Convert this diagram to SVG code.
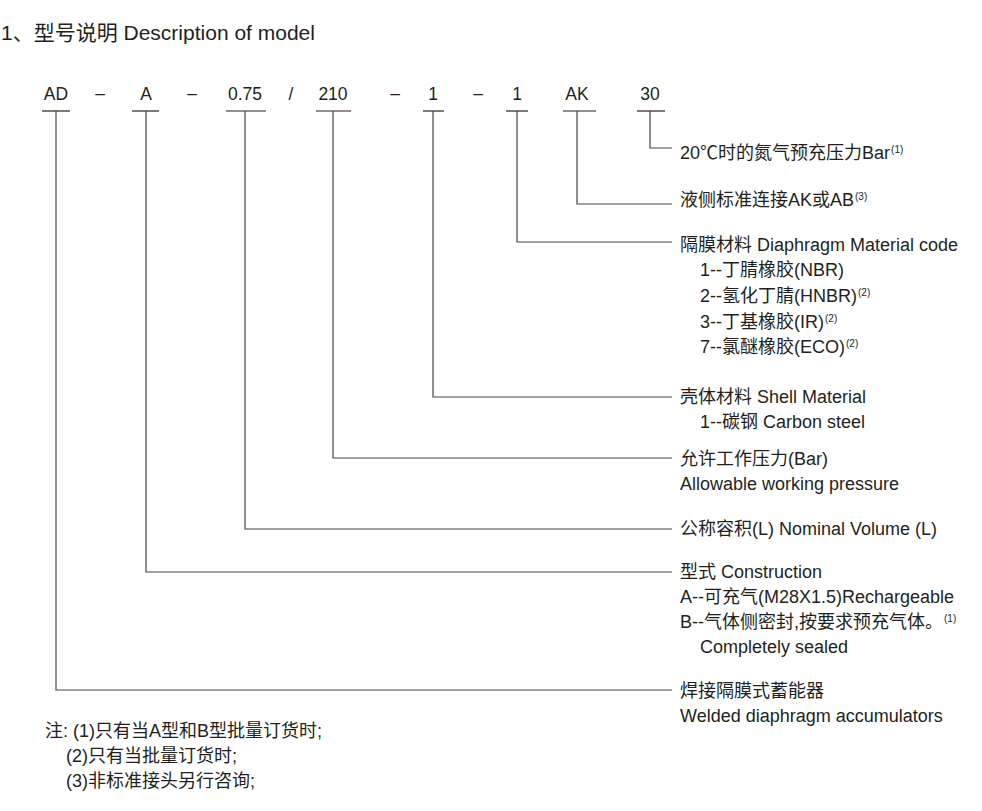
<svg xmlns="http://www.w3.org/2000/svg" width="982" height="811" viewBox="0 0 982 811">
<style>
text{font-family:"Liberation Sans","Noto Sans CJK SC",Arial,sans-serif;fill:#231f20}
.t{font-size:21px}
.h{font-size:17.5px;text-anchor:middle}
.d{font-size:18px}
.n{font-size:18px}
.sup{font-size:10px}
.ul{stroke:#231f20;stroke-width:1.2}
.c{fill:none;stroke:#444;stroke-width:1.2}
</style>
<rect width="982" height="811" fill="#fff"/>
<text class="t" x="1" y="40">1、型号说明 Description of model</text>
<g id="header">
<text class="h" x="56" y="100">AD</text>
<text class="h" x="100" y="99">–</text>
<text class="h" x="146" y="100">A</text>
<text class="h" x="192" y="99">–</text>
<text class="h" x="245" y="100">0.75</text>
<text class="h" x="291" y="100">/</text>
<text class="h" x="333" y="100">210</text>
<text class="h" x="395" y="99">–</text>
<text class="h" x="433" y="100">1</text>
<text class="h" x="478" y="99">–</text>
<text class="h" x="517" y="100">1</text>
<text class="h" x="577" y="100">AK</text>
<text class="h" x="650" y="100">30</text>
<line class="ul" x1="42" y1="111" x2="70" y2="111"/>
<line class="ul" x1="132" y1="111" x2="159" y2="111"/>
<line class="ul" x1="226" y1="111" x2="266" y2="111"/>
<line class="ul" x1="316" y1="111" x2="351" y2="111"/>
<line class="ul" x1="423" y1="111" x2="444" y2="111"/>
<line class="ul" x1="506" y1="111" x2="528" y2="111"/>
<line class="ul" x1="563" y1="111" x2="596" y2="111"/>
<line class="ul" x1="637" y1="111" x2="665" y2="111"/>
</g>
<g id="connectors">
<polyline class="c" points="650,111 650,148 672,148"/>
<polyline class="c" points="577,111 577,204 672,204"/>
<polyline class="c" points="517,111 517,242 672,242"/>
<polyline class="c" points="433,111 433,397 672,397"/>
<polyline class="c" points="333,111 333,458 672,458"/>
<polyline class="c" points="245,111 245,529 672,529"/>
<polyline class="c" points="146,111 146,572 672,572"/>
<polyline class="c" points="56,111 56,690 672,690"/>
</g>
<g id="pressure">
<text class="d" x="680" y="159">20℃时的氮气预充压力Bar<tspan class="sup" dx="1" dy="-6">(1)</tspan></text>
</g>
<g id="connection">
<text class="d" x="680" y="206">液侧标准连接AK或AB<tspan class="sup" dx="1" dy="-6">(3)</tspan></text>
</g>
<g id="diaphragm">
<text class="d" x="680" y="251">隔膜材料 Diaphragm Material code</text>
<text class="d" x="700" y="276">1--丁腈橡胶(NBR)</text>
<text class="d" x="700" y="302">2--氢化丁腈(HNBR)<tspan class="sup" dx="1" dy="-6">(2)</tspan></text>
<text class="d" x="700" y="328">3--丁基橡胶(IR)<tspan class="sup" dx="1" dy="-6">(2)</tspan></text>
<text class="d" x="700" y="353">7--氯醚橡胶(ECO)<tspan class="sup" dx="1" dy="-6">(2)</tspan></text>
</g>
<g id="shell">
<text class="d" x="680" y="403">壳体材料 Shell Material</text>
<text class="d" x="700" y="428">1--碳钢 Carbon steel</text>
</g>
<g id="working-pressure">
<text class="d" x="680" y="465">允许工作压力(Bar)</text>
<text class="d" x="680" y="490">Allowable working pressure</text>
</g>
<g id="volume">
<text class="d" x="680" y="535">公称容积(L) Nominal Volume (L)</text>
</g>
<g id="construction">
<text class="d" x="680" y="578">型式 Construction</text>
<text class="d" x="680" y="603">A--可充气(M28X1.5)Rechargeable</text>
<text class="d" x="680" y="628">B--气体侧密封,按要求预充气体。<tspan class="sup" dx="1" dy="-6">(1)</tspan></text>
<text class="d" x="700" y="653">Completely sealed</text>
</g>
<g id="accumulator">
<text class="d" x="680" y="697">焊接隔膜式蓄能器</text>
<text class="d" x="680" y="722">Welded diaphragm accumulators</text>
</g>
<g id="notes">
<text class="n" x="45" y="737">注: (1)只有当A型和B型批量订货时;</text>
<text class="n" x="66" y="762">(2)只有当批量订货时;</text>
<text class="n" x="66" y="787">(3)非标准接头另行咨询;</text>
</g>
</svg>
